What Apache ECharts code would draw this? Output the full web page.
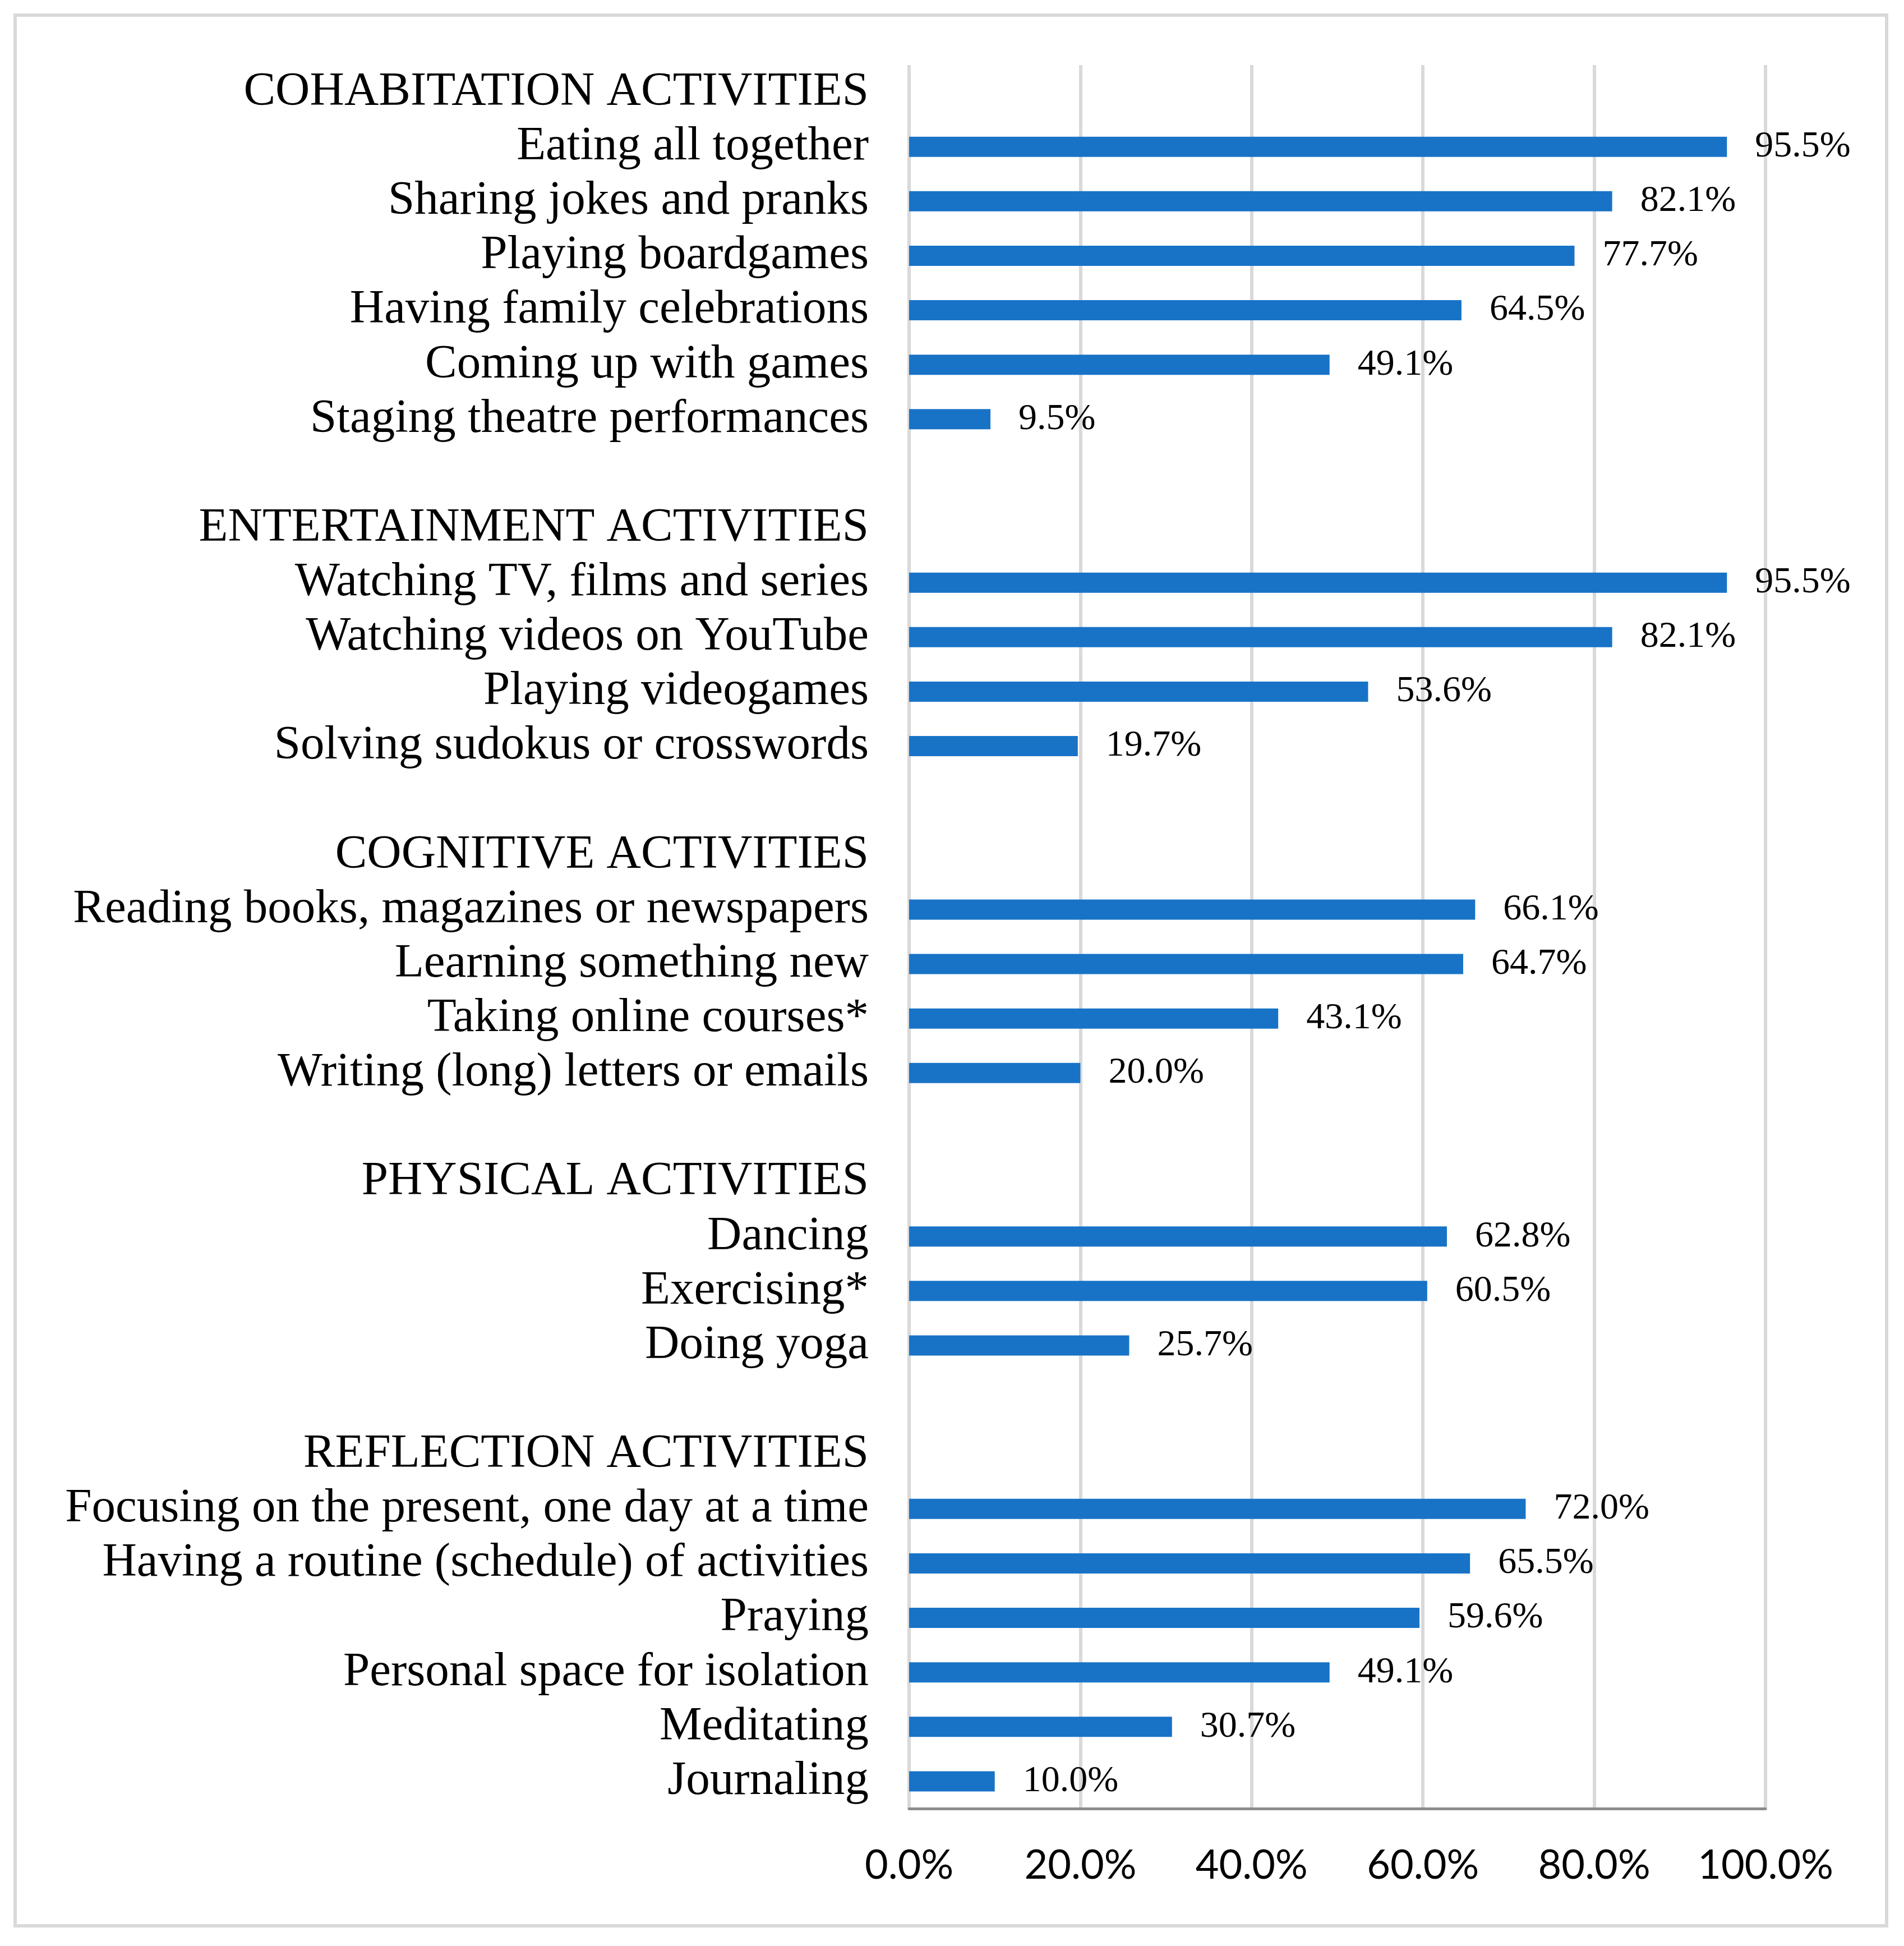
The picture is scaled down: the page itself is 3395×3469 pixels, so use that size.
<!DOCTYPE html>
<html>
<head>
<meta charset="utf-8">
<script src="https://cdn.jsdelivr.net/npm/echarts@6/dist/echarts.min.js"></script>
<style>
html,body{margin:0;padding:0;background:#fff;}
#chart{width:3395px;height:3469px;}
</style>
</head>
<body>
<div id="chart"></div>
<script>
// ---- data ----
const groupTitles = ['COHABITATION ACTIVITIES', 'ENTERTAINMENT ACTIVITIES', 'COGNITIVE ACTIVITIES', 'PHYSICAL ACTIVITIES', 'REFLECTION ACTIVITIES'];

const cohabitationLabels = ['Eating all together', 'Sharing jokes and pranks', 'Playing boardgames', 'Having family celebrations', 'Coming up with games', 'Staging theatre performances'];
const cohabitationValues = [95.5, 82.1, 77.7, 64.5, 49.1, 9.5];

const entertainmentLabels = ['Watching TV, films and series', 'Watching videos on YouTube', 'Playing videogames', 'Solving sudokus or crosswords'];
const entertainmentValues = [95.5, 82.1, 53.6, 19.7];

const cognitiveLabels = ['Reading books, magazines or newspapers', 'Learning something new', 'Taking online courses*', 'Writing (long) letters or emails'];
const cognitiveValues = [66.1, 64.7, 43.1, 20.0];

const physicalLabels = ['Dancing', 'Exercising*', 'Doing yoga'];
const physicalValues = [62.8, 60.5, 25.7];

const reflectionLabels = ['Focusing on the present, one day at a time', 'Having a routine (schedule) of activities', 'Praying', 'Personal space for isolation', 'Meditating', 'Journaling'];
const reflectionValues = [72.0, 65.5, 59.6, 49.1, 30.7, 10.0];

const xTickLabels = ['0.0%', '20.0%', '40.0%', '60.0%', '80.0%', '100.0%'];

// ---- build category list (top to bottom) ----
const groups = [
  [cohabitationLabels, cohabitationValues],
  [entertainmentLabels, entertainmentValues],
  [cognitiveLabels, cognitiveValues],
  [physicalLabels, physicalValues],
  [reflectionLabels, reflectionValues]
];
const categories = [];
const values = [];
groups.forEach((g, i) => {
  if (i > 0) { categories.push(' '.repeat(i)); values.push(null); }
  categories.push(groupTitles[i]); values.push(null);
  g[0].forEach((lab, j) => { categories.push(lab); values.push(g[1][j]); });
});

const chart = echarts.init(document.getElementById('chart'), null, {renderer: 'canvas'});
const option = {
  backgroundColor: '#ffffff',
  animation: false,
  grid: { left: 1621, right: 247, top: 116, bottom: 245, containLabel: false, outerBoundsMode: 'none' },
  xAxis: {
    type: 'value', min: 0, max: 100, interval: 20,
    axisLine: { show: true, onZero: false, lineStyle: { color: '#8c8c8c', width: 5 } },
    axisTick: { show: false },
    splitLine: { show: true, lineStyle: { color: '#d9d9d9', width: 6 } },
    axisLabel: {
      margin: 66,
      fontFamily: 'Lato', fontSize: 72, color: '#000',
      formatter: (v) => xTickLabels[Math.round(v / 20)]
    }
  },
  yAxis: {
    type: 'category', inverse: true, data: categories,
    axisLine: { show: false }, axisTick: { show: false },
    splitLine: { show: false },
    axisLabel: { margin: 72, fontFamily: 'Liberation Serif', fontSize: 85, color: '#000', interval: 0, padding: [8, 0, 0, 0] }
  },
  series: [{
    type: 'bar', data: values, barWidth: 36,
    itemStyle: { color: '#1873c7' },
    label: {
      show: true, position: 'right', distance: 50,
      fontFamily: 'Liberation Serif', fontSize: 66, color: '#000', padding: [6, 0, 0, 0],
      formatter: (p) => (p.value == null ? '' : p.value.toFixed(1) + '%')
    }
  }],
  graphic: [{
    type: 'rect', silent: true, z: 100,
    shape: { x: 27, y: 27, width: 3337, height: 3406 },
    style: { fill: 'none', stroke: '#d9d9d9', lineWidth: 6 }
  }]
};
chart.setOption(option);
</script>
</body>
</html>
